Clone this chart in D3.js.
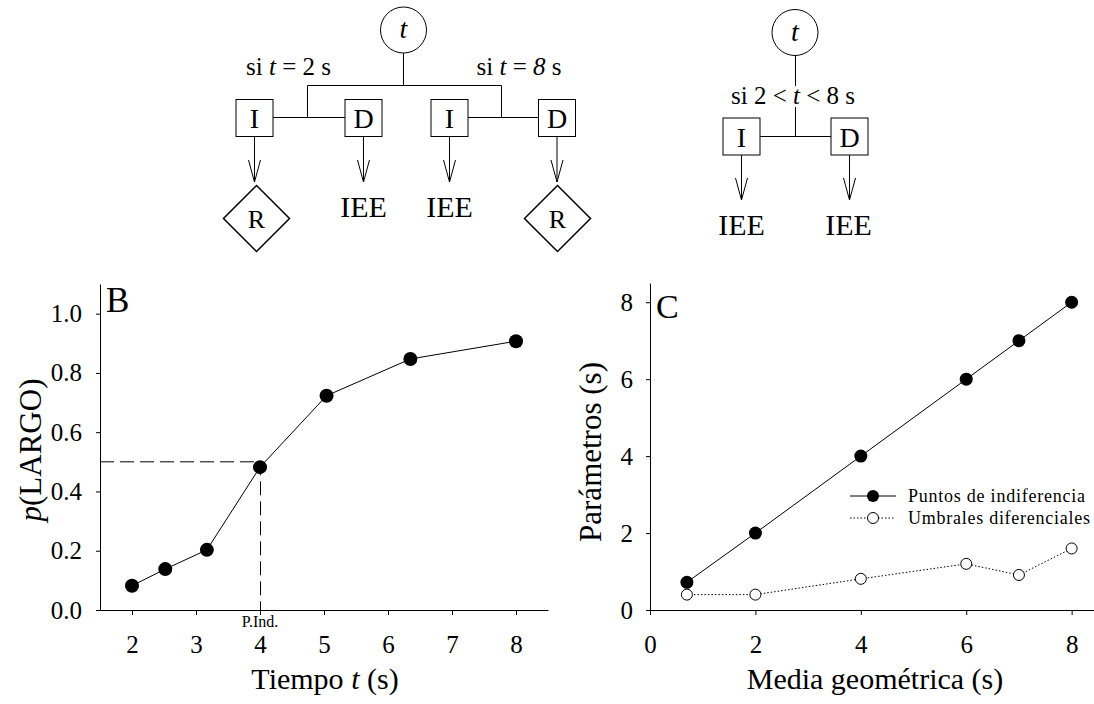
<!DOCTYPE html>
<html lang="es">
<head>
    <title>Puntos de indiferencia y umbrales</title>
    <meta charset="utf-8">
    <script src="https://d3js.org/d3.v7.min.js"></script>
    <style>
        * {
            margin: 0;
            padding: 0;
        }
        body {
            background-color: white;
            width: 1094px;
            height: 704px;
            overflow: hidden;
        }
    </style>
</head>
<body>
<div id="container"></div>
<script>
    // panel B
    const tiempo = [2, 2.52, 3.17, 4, 5.04, 6.35, 8];
    const pLargo = [0.082, 0.138, 0.203, 0.482, 0.723, 0.847, 0.907];
    const tiempoTicks = [2, 3, 4, 5, 6, 7, 8];
    const pTicks = [0, 0.2, 0.4, 0.6, 0.8, 1.0];
    const puntoInd = [4, 0.5];

    // panel C
    const mediaGeometrica = [0.7, 2, 4, 6, 7, 8];
    const puntosIndiferencia = [0.72, 2, 4, 6, 7, 8];
    const umbralesDiferenciales = [0.4, 0.4, 0.81, 1.2, 0.91, 1.6];
    const mediaTicks = [0, 2, 4, 6, 8];
    const parametrosTicks = [0, 2, 4, 6, 8];
    const leyenda = ["Puntos de indiferencia", "Umbrales diferenciales"];

    const w = 1094;
    const h = 704;
    const serif = "'Liberation Serif', 'Times New Roman', Times, serif";

    const svg = d3.select("#container")
        .append("svg")
        .attr("width", w)
        .attr("height", h);

    const styleAxis = (g) => {
        g.select(".domain").attr("stroke", "#000");
        g.selectAll(".tick line").attr("stroke", "#000");
        g.selectAll(".tick text").attr("font-size", 25).attr("fill", "#000");
    };

    // ---------- diagrams on top ----------
    const diag = svg.append("g")
        .attr("fill", "none")
        .attr("stroke", "#000")
        .attr("stroke-width", 1);

    const box = 37;

    const drawBox = (cx, cy, label) => {
        diag.append("rect")
            .attr("x", cx - box / 2).attr("y", cy - box / 2)
            .attr("width", box).attr("height", box)
            .attr("fill", "white");
        svg.append("text")
            .attr("x", cx).attr("y", cy + 10)
            .attr("text-anchor", "middle")
            .attr("font-size", 28)
            .text(label);
    };

    const drawArrow = (x, y1, y2) => {
        diag.append("line").attr("x1", x).attr("x2", x).attr("y1", y1).attr("y2", y2);
        diag.append("path").attr("d", `M${x - 6},${y2 - 22}L${x},${y2}L${x + 6},${y2 - 22}`);
    };

    const drawCircle = (cx, cy) => {
        diag.append("circle").attr("cx", cx).attr("cy", cy).attr("r", 23);
        svg.append("text")
            .attr("x", cx).attr("y", cy + 8)
            .attr("text-anchor", "middle")
            .attr("font-size", 28)
            .attr("font-style", "italic")
            .text("t");
    };

    const drawDiamond = (cx, cy, label) => {
        diag.append("path")
            .attr("d", `M${cx},${cy - 33}L${cx + 33},${cy}L${cx},${cy + 33}L${cx - 33},${cy}Z`)
            .attr("stroke-width", 1.5);
        svg.append("text")
            .attr("x", cx).attr("y", cy + 9)
            .attr("text-anchor", "middle")
            .attr("font-size", 26)
            .text(label);
    };

    const iee = (x, y) => svg.append("text")
        .attr("x", x).attr("y", y)
        .attr("text-anchor", "middle")
        .attr("font-size", 30)
        .text("IEE");

    // left diagram
    drawCircle(403.5, 30);
    diag.append("path").attr("d", "M403.5,53V85.5M307.5,117.5V85.5H501.5V117.5M273,117.5H345M468,117.5H538");
    const boxesX = [254.5, 363.5, 449.5, 557];
    ["I", "D", "I", "D"].forEach((l, i) => {
        drawBox(boxesX[i], 118, l);
        drawArrow(boxesX[i], 136.5, 182);
    });
    drawDiamond(256.5, 218.5, "R");
    drawDiamond(557.5, 218.5, "R");
    iee(363.5, 216.5);
    iee(449.5, 216.5);

    const cond1 = svg.append("text").attr("x", 288.5).attr("y", 75).attr("text-anchor", "middle").attr("font-size", 25);
    cond1.append("tspan").text("si ");
    cond1.append("tspan").attr("font-style", "italic").text("t");
    cond1.append("tspan").text(" = 2 s");

    const cond2 = svg.append("text").attr("x", 519).attr("y", 75).attr("text-anchor", "middle").attr("font-size", 25);
    cond2.append("tspan").text("si ");
    cond2.append("tspan").attr("font-style", "italic").text("t");
    cond2.append("tspan").text(" = ");
    cond2.append("tspan").attr("font-style", "italic").text("8");
    cond2.append("tspan").text(" s");

    // right diagram
    drawCircle(795, 32.5);
    diag.append("path").attr("d", "M795.5,55.5V86M795.5,107V136.5M760,136.5H831");
    drawBox(741.5, 136.5, "I");
    drawBox(849.5, 136.5, "D");
    drawArrow(741.5, 155, 200);
    drawArrow(849.5, 155, 200);
    iee(741.5, 235);
    iee(848.5, 235);

    const cond3 = svg.append("text").attr("x", 793).attr("y", 103.5).attr("text-anchor", "middle").attr("font-size", 25);
    cond3.append("tspan").text("si 2 < ");
    cond3.append("tspan").attr("font-style", "italic").text("t");
    cond3.append("tspan").text(" < 8 s");

    // ---------- panel B ----------
    const xB = d3.scaleLinear().domain([1.5, 8.5]).range([100, 548]);
    const yB = d3.scaleLinear().domain([0, 1.1]).range([610, 284]);

    svg.append("g")
        .attr("transform", `translate(0, ${yB(0)})`)
        .call(d3.axisBottom(xB).tickValues(tiempoTicks).tickSize(5).tickSizeOuter(0).tickPadding(20).tickFormat(d3.format("d")))
        .call(styleAxis);

    svg.append("g")
        .attr("transform", `translate(${xB(1.5)}, 0)`)
        .call(d3.axisLeft(yB).tickValues(pTicks).tickSize(4).tickSizeOuter(0).tickPadding(14).tickFormat(d3.format(".1f")))
        .call(styleAxis);

    svg.append("path")
        .attr("d", `M${xB(1.5)},${yB(puntoInd[1])}H${xB(puntoInd[0]) + 0.5}V${yB(0)}`)
        .attr("fill", "none")
        .attr("stroke", "#000")
        .attr("stroke-dasharray", "14,6");

    svg.append("path")
        .datum(tiempo.map((t, i) => [t, pLargo[i]]))
        .attr("d", d3.line().x(d => xB(d[0])).y(d => yB(d[1])))
        .attr("fill", "none")
        .attr("stroke", "#000");

    svg.selectAll(".ptB")
        .data(tiempo)
        .enter()
        .append("circle")
        .attr("cx", d => xB(d))
        .attr("cy", (d, i) => yB(pLargo[i]))
        .attr("r", 7)
        .attr("fill", "#000");

    svg.append("text")
        .attr("x", xB(puntoInd[0]))
        .attr("y", 627)
        .attr("text-anchor", "middle")
        .attr("font-size", 16)
        .text("P.Ind.");

    svg.append("text")
        .attr("x", 106).attr("y", 312)
        .attr("font-size", 35)
        .text("B");

    svg.append("text")
        .attr("x", 325).attr("y", 689)
        .attr("text-anchor", "middle")
        .attr("font-size", 30)
        .html('Tiempo <tspan font-style="italic">t</tspan> (s)');

    svg.append("text")
        .attr("transform", "translate(41, 450) rotate(-90)")
        .attr("text-anchor", "middle")
        .attr("font-size", 31)
        .html('<tspan font-style="italic">p</tspan>(LARGO)');

    // ---------- panel C ----------
    const xC = d3.scaleLinear().domain([0, 8.5]).range([650, 1098]);
    const yC = d3.scaleLinear().domain([0, 8.5]).range([610, 283]);

    svg.append("g")
        .attr("transform", `translate(0, ${yC(0)})`)
        .call(d3.axisBottom(xC).tickValues(mediaTicks).tickSize(5).tickSizeOuter(0).tickPadding(20))
        .call(styleAxis);

    svg.append("g")
        .attr("transform", `translate(${xC(0)}, 0)`)
        .call(d3.axisLeft(yC).tickValues(parametrosTicks).tickSize(4).tickSizeOuter(0).tickPadding(13))
        .call(styleAxis);

    const lineC = d3.line().x(d => xC(d[0])).y(d => yC(d[1]));

    svg.append("path")
        .datum(mediaGeometrica.map((m, i) => [m, umbralesDiferenciales[i]]))
        .attr("d", lineC)
        .attr("fill", "none")
        .attr("stroke", "#000")
        .attr("stroke-dasharray", "1.5,2");

    svg.append("path")
        .datum(mediaGeometrica.map((m, i) => [m, puntosIndiferencia[i]]))
        .attr("d", lineC)
        .attr("fill", "none")
        .attr("stroke", "#000");

    svg.selectAll(".ptU")
        .data(mediaGeometrica)
        .enter()
        .append("circle")
        .attr("cx", d => xC(d))
        .attr("cy", (d, i) => yC(umbralesDiferenciales[i]))
        .attr("r", 5.5)
        .attr("fill", "white")
        .attr("stroke", "#000");

    svg.selectAll(".ptP")
        .data(mediaGeometrica)
        .enter()
        .append("circle")
        .attr("cx", d => xC(d))
        .attr("cy", (d, i) => yC(puntosIndiferencia[i]))
        .attr("r", 6.5)
        .attr("fill", "#000");

    // legend
    const leg = svg.append("g").attr("transform", "translate(850, 496)");
    leg.append("line").attr("x1", 0).attr("x2", 46).attr("stroke", "#000");
    leg.append("circle").attr("cx", 23).attr("r", 6).attr("fill", "#000");
    leg.append("line").attr("x1", 0).attr("x2", 44).attr("y1", 22).attr("y2", 22)
        .attr("stroke", "#000").attr("stroke-dasharray", "1.5,2");
    leg.append("circle").attr("cx", 23).attr("cy", 22).attr("r", 5.5).attr("fill", "white").attr("stroke", "#000");
    leyenda.forEach((s, i) => {
        leg.append("text")
            .attr("x", 58).attr("y", 6 + i * 22)
            .attr("font-size", 18)
            .attr("textLength", i === 0 ? 177 : 182)
            .attr("lengthAdjust", "spacing")
            .text(s);
    });

    svg.append("text")
        .attr("x", 656).attr("y", 318)
        .attr("font-size", 34)
        .text("C");

    svg.append("text")
        .attr("x", 875).attr("y", 689)
        .attr("text-anchor", "middle")
        .attr("font-size", 30)
        .text("Media geométrica (s)");

    svg.append("text")
        .attr("transform", "translate(601, 452) rotate(-90)")
        .attr("text-anchor", "middle")
        .attr("font-size", 31)
        .text("Parámetros (s)");

    // every text in the Times-like serif face
    svg.selectAll("text")
        .attr("font-family", null)
        .style("font-family", serif)
        .style("fill", "#000");
</script>
</body>
</html>
